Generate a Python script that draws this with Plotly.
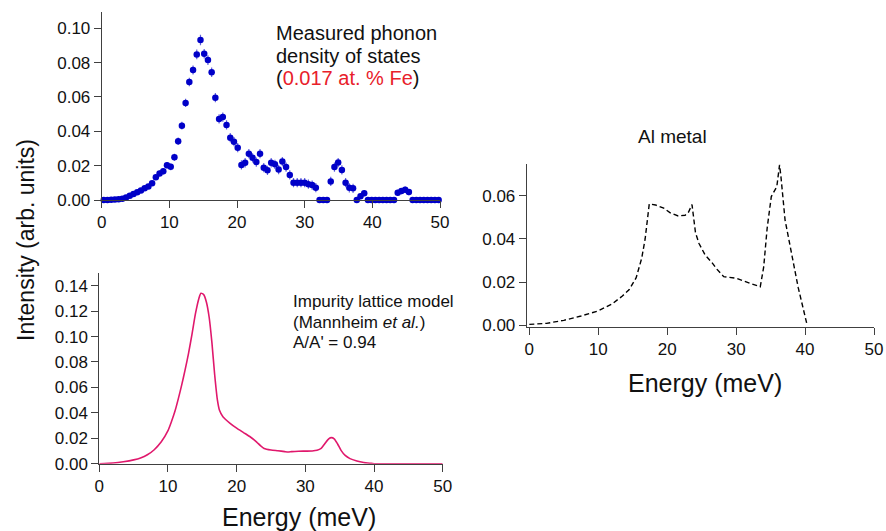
import plotly.graph_objects as go

W, H = 886, 531

# ---------- Measured phonon DOS (0.017 at.% Fe) ----------
meas_energy = [0.3, 0.85, 1.4, 1.95, 2.5, 3.05, 3.6, 4.15, 4.7, 5.25, 5.8, 6.35, 6.9, 7.45,
               8.0, 8.55, 9.1, 9.65, 10.2, 10.75, 11.3, 11.85, 12.4, 12.95, 13.5, 14.05,
               14.6, 15.15, 15.7, 16.25, 16.8, 17.35, 17.9, 18.45, 19.0, 19.55, 20.1, 20.65,
               21.2, 21.75, 22.3, 22.85, 23.4, 23.95, 24.5, 25.05, 25.6, 26.15, 26.7, 27.25,
               27.8, 28.35, 28.9, 29.45, 30.0, 30.55, 31.1, 31.65, 32.2, 32.75, 33.3, 33.85,
               34.4, 34.95, 35.5, 36.05, 36.6, 37.15, 37.7, 38.25, 38.8, 39.35, 39.9, 40.45,
               41.0, 41.55, 42.1, 42.65, 43.2, 43.75, 44.3, 44.85, 45.4, 45.95, 46.5, 47.05,
               47.6, 48.15, 48.7, 49.25, 49.8]
meas_dos = [0.0, 0.0, 0.0002, 0.0003, 0.0005, 0.0008, 0.0014, 0.0025, 0.0035, 0.0045, 0.0055,
            0.0068, 0.0078, 0.0097, 0.0132, 0.0155, 0.0167, 0.0203, 0.0193, 0.0249, 0.0342,
            0.0433, 0.0565, 0.0687, 0.0757, 0.0848, 0.0932, 0.0852, 0.0815, 0.0744, 0.0596,
            0.0472, 0.0483, 0.0437, 0.0363, 0.0340, 0.0305, 0.0204, 0.0217, 0.0270, 0.0246,
            0.0221, 0.0270, 0.0188, 0.0173, 0.0217, 0.0208, 0.0177, 0.0224, 0.0192, 0.0146,
            0.0101, 0.0101, 0.0101, 0.0101, 0.0092, 0.0087, 0.0072, 0.0, 0.0, 0.0, 0.0108,
            0.0192, 0.0218, 0.0175, 0.0101, 0.0071, 0.0068, 0.0, 0.0022, 0.0040, 0.0, 0.0,
            0.0, 0.0, 0.0, 0.0, 0.0, 0.0, 0.0042, 0.0052, 0.0060, 0.0046, 0.0, 0.0, 0.0,
            0.0, 0.0, 0.0, 0.0, 0.0]
meas_err = [0.0004, 0.0004, 0.0004, 0.0005, 0.0005, 0.0006, 0.0007, 0.0008, 0.0009, 0.0010,
            0.0011, 0.0012, 0.0013, 0.0014, 0.0015, 0.0017, 0.0018, 0.0019, 0.0020, 0.0021,
            0.0022, 0.0023, 0.0024, 0.0025, 0.0026, 0.0028, 0.0030, 0.0028, 0.0028, 0.0028,
            0.0027, 0.0027, 0.0027, 0.0027, 0.0027, 0.0027, 0.0027, 0.0027, 0.0027, 0.0027,
            0.0027, 0.0027, 0.0027, 0.0027, 0.0027, 0.0027, 0.0027, 0.0027, 0.0027, 0.0027,
            0.0027, 0.0027, 0.0027, 0.0027, 0.0027, 0.0027, 0.0027, 0.0027, 0.0012, 0.0012,
            0.0012, 0.0027, 0.0027, 0.0027, 0.0027, 0.0027, 0.0027, 0.0027, 0.0012, 0.0018,
            0.0018, 0.0012, 0.0012, 0.0012, 0.0012, 0.0012, 0.0012, 0.0012, 0.0012, 0.0018,
            0.0018, 0.0018, 0.0018, 0.0012, 0.0012, 0.0012, 0.0012, 0.0012, 0.0012, 0.0012,
            0.0012]

# ---------- Impurity lattice model (Mannheim et al.) ----------
model_energy = [0, 2, 3.5, 5, 6, 7, 8, 9, 10, 10.5, 11, 11.5, 12, 12.5, 13, 13.5, 14, 14.5,
                14.8, 15.2, 15.6, 16, 16.4, 16.8, 17.2, 17.5, 18, 19, 20, 21, 22, 22.5, 23,
                23.5, 24, 25, 26, 27, 27.5, 28, 29, 30, 31, 31.7, 32.3, 32.8, 33.4, 33.8,
                34.2, 34.7, 35.2, 35.8, 36.5, 37.5, 38.5, 39.5, 40, 50]
model_dos = [0.0, 0.0005, 0.0015, 0.003, 0.0045, 0.007, 0.011, 0.017, 0.026, 0.033, 0.041,
             0.051, 0.062, 0.074, 0.087, 0.102, 0.118, 0.130, 0.134, 0.133, 0.127, 0.115,
             0.095, 0.070, 0.050, 0.042, 0.037, 0.032, 0.028, 0.0245, 0.021, 0.019, 0.0165,
             0.014, 0.012, 0.0108, 0.0102, 0.0095, 0.0092, 0.0095, 0.0098, 0.0099, 0.0100,
             0.0105, 0.012, 0.0155, 0.0195, 0.0205, 0.0195, 0.0155, 0.0105, 0.0065, 0.004,
             0.0022, 0.001, 0.0003, 0.0, 0.0]

# ---------- Al metal ----------
al_energy = [0, 2.5, 5, 7.5, 10, 12, 13.5, 14.5, 15.5, 16.3, 16.8, 17.4, 18.3, 19.5, 20.5,
             21.6, 22.6, 23.1, 23.6, 24.1, 24.6, 25.5, 26.5, 27.2, 28.2, 29.0, 30.1, 32.0,
             33.5, 34.0, 34.5, 35.1, 35.9, 36.3, 36.5, 37.1, 38.1, 39.0, 40.3]
al_dos = [0.0003, 0.0008, 0.0022, 0.0042, 0.0066, 0.0098, 0.0135, 0.0165, 0.022, 0.031,
          0.040, 0.0563, 0.0558, 0.0543, 0.052, 0.0507, 0.051, 0.0525, 0.056, 0.043, 0.038,
          0.0326, 0.029, 0.026, 0.0225, 0.0223, 0.0217, 0.0194, 0.0178, 0.027, 0.045,
          0.0597, 0.0643, 0.0744, 0.069, 0.0488, 0.0318, 0.0175, 0.0]

x_ticks = [0, 10, 20, 30, 40, 50]
top_yticks = [0.00, 0.02, 0.04, 0.06, 0.08, 0.10]
bot_yticks = [0.00, 0.02, 0.04, 0.06, 0.08, 0.10, 0.12, 0.14]
al_yticks = [0.00, 0.02, 0.04, 0.06]

FONT = "Liberation Sans, Arial, sans-serif"
AX = "#404040"
TXT = "#111"


def px_x(p):
    return p / W


def px_y(p):
    return 1 - p / H


fig = go.Figure()

fig.add_trace(go.Scatter(
    x=meas_energy, y=meas_dos, mode="markers",
    marker=dict(color="#0000c8", size=6.5),
    error_y=dict(type="data", array=meas_err, visible=True, color="rgba(70,70,215,0.85)",
                 thickness=1.2, width=0),
    xaxis="x", yaxis="y", cliponaxis=False, showlegend=False))

fig.add_trace(go.Scatter(
    x=model_energy, y=model_dos, mode="lines",
    line=dict(color="#e0186c", width=1.6, shape="spline", smoothing=0.6),
    xaxis="x2", yaxis="y2", cliponaxis=False, showlegend=False))

fig.add_trace(go.Scatter(
    x=al_energy, y=al_dos, mode="lines", line=dict(color="black", width=1.4, dash="5px,3px"),
    xaxis="x3", yaxis="y3", cliponaxis=False, showlegend=False))

axis_common = dict(showline=True, linecolor=AX, linewidth=1, ticks="outside", ticklen=7,
                   tickcolor=AX, showgrid=False, zeroline=False, automargin=False,
                   tickfont=dict(family=FONT, size=17, color=TXT))

fig.update_layout(
    template="none",
    width=W, height=H,
    margin=dict(l=0, r=0, t=0, b=0, pad=0, autoexpand=False),
    paper_bgcolor="white", plot_bgcolor="white",
    showlegend=False,
    xaxis=dict(domain=[px_x(101.7), px_x(440)], range=[0, 50], tickvals=x_ticks,
               anchor="y", **axis_common),
    yaxis=dict(domain=[px_y(200), px_y(12)], range=[0, 0.1095], tickvals=top_yticks,
               tickformat=".2f", anchor="x", **axis_common),
    xaxis2=dict(domain=[px_x(99.3), px_x(442.7)], range=[0, 50], tickvals=x_ticks,
                anchor="y2", **axis_common),
    yaxis2=dict(domain=[px_y(463.7), px_y(273)], range=[0, 0.150], tickvals=bot_yticks,
                tickformat=".2f", anchor="x2", **axis_common),
    xaxis3=dict(domain=[px_x(526.7), px_x(874)], range=[-0.38, 50], tickvals=x_ticks,
                anchor="y3", **axis_common),
    yaxis3=dict(domain=[px_y(327), px_y(164.3)], range=[-0.0009, 0.0747], tickvals=al_yticks,
                tickformat=".2f", anchor="x3", **axis_common),
)

annots = [
    dict(text="Measured phonon", x=px_x(274), y=px_y(33), xanchor="left", yanchor="middle",
         font=dict(family=FONT, size=20, color=TXT)),
    dict(text="density of states", x=px_x(274), y=px_y(56), xanchor="left", yanchor="middle",
         font=dict(family=FONT, size=20, color=TXT)),
    dict(text="(<span style='color:#e8202a'>0.017 at. % Fe</span>)", x=px_x(274), y=px_y(78),
         xanchor="left", yanchor="middle", font=dict(family=FONT, size=20, color=TXT)),
    dict(text="Impurity lattice model", x=px_x(291), y=px_y(301), xanchor="left", yanchor="middle",
         font=dict(family=FONT, size=17, color=TXT)),
    dict(text="(Mannheim <i>et al.</i>)", x=px_x(291), y=px_y(322), xanchor="left", yanchor="middle",
         font=dict(family=FONT, size=17, color=TXT)),
    dict(text="A/A' = 0.94", x=px_x(291), y=px_y(342), xanchor="left", yanchor="middle",
         font=dict(family=FONT, size=17, color=TXT)),
    dict(text="Al metal", x=px_x(672), y=px_y(136), xanchor="center", yanchor="middle",
         font=dict(family=FONT, size=19, color=TXT)),
    dict(text="Energy (meV)", x=px_x(299), y=px_y(517), xanchor="center", yanchor="middle",
         font=dict(family=FONT, size=25, color=TXT)),
    dict(text="Energy (meV)", x=px_x(705), y=px_y(383), xanchor="center", yanchor="middle",
         font=dict(family=FONT, size=25, color=TXT)),
    dict(text="Intensity (arb. units)", x=px_x(26), y=px_y(240), xanchor="center", yanchor="middle",
         textangle=-90, font=dict(family=FONT, size=23, color=TXT)),
]
for a in annots:
    a.update(xref="paper", yref="paper", showarrow=False)
fig.update_layout(annotations=annots)

fig.write_html("out.html", post_script="document.body.style.margin='0px';",
               config={"displayModeBar": False})
